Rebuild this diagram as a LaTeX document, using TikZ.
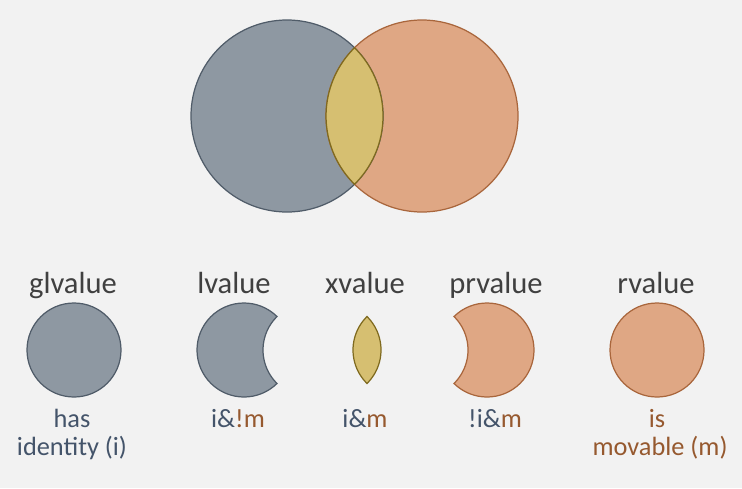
\documentclass[tikz,border=0pt]{standalone}
\usepackage{fontspec}
\setmainfont{Carlito}
\usepackage{xcolor}

\definecolor{bgcol}{HTML}{F2F2F2}
\definecolor{idfill}{HTML}{8E98A2}
\definecolor{iddraw}{HTML}{505C69}
\definecolor{mvfill}{HTML}{DFA784}
\definecolor{mvdraw}{HTML}{A9663C}
\definecolor{xfill}{HTML}{D6BF71}
\definecolor{xdraw}{HTML}{7F6A1F}
\definecolor{idtext}{HTML}{44546A}
\definecolor{mvtext}{HTML}{96592F}
\definecolor{titletext}{HTML}{404040}

\tikzset{
    idset/.style={fill=idfill, draw=iddraw, line width=0.7pt},
    mvset/.style={fill=mvfill, draw=mvdraw, line width=0.7pt},
    xset/.style={fill=xfill, draw=xdraw, line width=0.7pt},
    titlelabel/.style={anchor=base, inner sep=0pt, text=titletext,
        font=\fontsize{17.4}{20}\selectfont},
    notelabel/.style={anchor=base, inner sep=0pt, text=idtext,
        font=\fontsize{15}{16}\selectfont}
}
\newcommand{\mv}[1]{\textcolor{mvtext}{#1}}

\begin{document}
\begin{tikzpicture}[x=0.02cm, y=0.02cm]
    \fill[bgcol] (0,0) rectangle (742,488);
    \useasboundingbox (0,0) rectangle (742,488);

    % big venn
    \fill[idfill] (287,372) circle[radius=96];
    \fill[mvfill] (422,372) circle[radius=96];
    \draw[iddraw, line width=0.7pt] (287,372) circle[radius=96];
    \draw[mvdraw, line width=0.7pt] (422,372) circle[radius=96];
    \draw[xset] (287,372) ++(45.3:96) arc[start angle=45.3, end angle=-45.3, radius=96]
        arc[start angle=225.3, end angle=134.7, radius=96] -- cycle;

    % small shapes
    \draw[idset] (74,138) circle[radius=47];
    \draw[idset] (244,138) ++(45.4:47) arc[start angle=45.4, end angle=314.6, radius=47]
        arc[start angle=225.4, end angle=134.6, radius=47] -- cycle;
    \draw[xset] (334,138) ++(45.4:47) arc[start angle=45.4, end angle=-45.4, radius=47]
        arc[start angle=225.4, end angle=134.6, radius=47] -- cycle;
    \draw[mvset] (487,138) ++(134.6:47) arc[start angle=134.6, end angle=-134.6, radius=47]
        arc[start angle=-45.4, end angle=45.4, radius=47] -- cycle;
    \draw[mvset] (657,138) circle[radius=47];

    % titles
    \node[titlelabel] (gl) at (73,195) {glvalue};
    \node[titlelabel] (l) at (234,195) {lvalue};
    \node[titlelabel] (x) at (365,195) {xvalue};
    \node[titlelabel] (pr) at (496,195) {prvalue};
    \node[titlelabel] (r) at (656,195) {rvalue};

    % notes
    \node[notelabel] (has) at (72,61) {has};
    \node[notelabel] (identity) at (72,33) {identity (i)};
    \node[notelabel] (lnote) at (238,61) {i\&\mv{!m}};
    \node[notelabel] (xnote) at (365,61) {i\&\mv{m}};
    \node[notelabel] (prnote) at (495,61) {!i\&\mv{m}};
    \node[notelabel, text=mvtext] (is) at (657,61) {is};
    \node[notelabel, text=mvtext] (movable) at (660,33) {movable (m)};
\end{tikzpicture}
\end{document}
